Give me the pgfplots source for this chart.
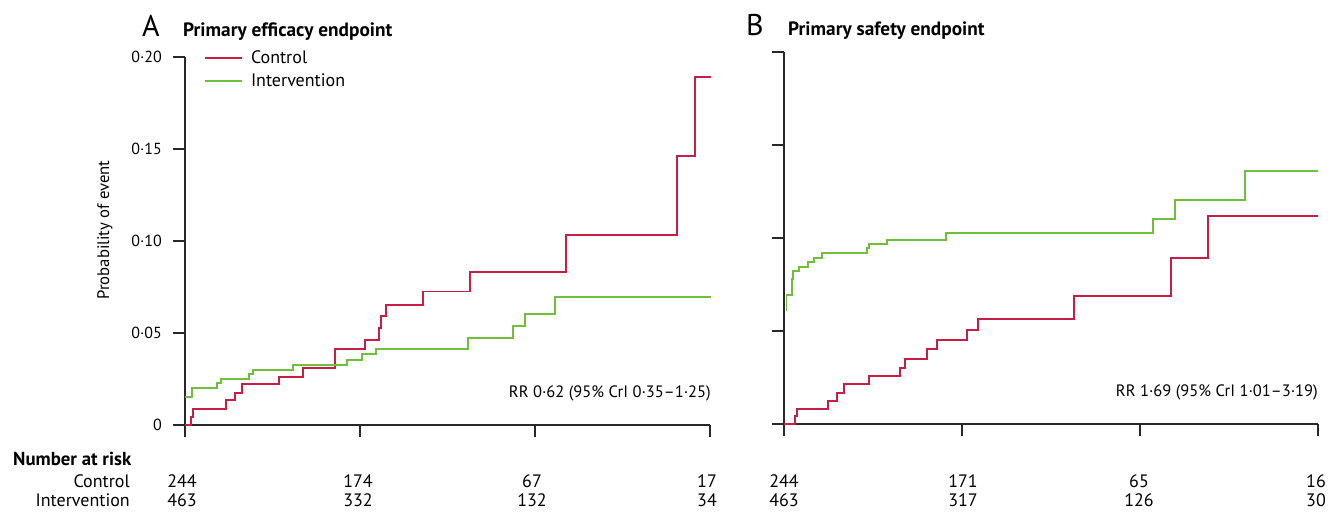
\documentclass[border=0pt]{standalone}
\usepackage{pgfplots}
\pgfplotsset{compat=1.18}
\usepackage{fontspec}
\setmainfont{PT Sans}
\definecolor{cred}{RGB}{198,30,68}
\definecolor{cgreen}{RGB}{112,190,60}
\definecolor{axgray}{RGB}{40,40,40}
\begin{document}
\begin{tikzpicture}
\useasboundingbox (0pt,0pt) rectangle (1330pt,513pt);
\pgfplotsset{km/.style={scale only axis, axis lines=left,
  axis line style={-, line width=1.4pt, color=axgray},
  tick style={line width=1.4pt, color=axgray},
  tick align=outside, major tick length=12pt,
  ymin=0, ymax=0.2, ytick={0,0.05,0.1,0.15,0.2},
  xticklabels={}, clip=false,
  every axis plot/.append style={const plot, line width=1.8pt}}}
\begin{axis}[km, at={(185pt,88pt)}, anchor=south west, width=525pt, height=368pt,
  xmin=0, xmax=525, xtick={0,175,350,525},
  yticklabels={0,0·05,0·10,0·15,0·20},
  yticklabel style={font=\fontsize{16}{18}\selectfont, inner sep=0pt, xshift=-11pt},
  legend style={draw=none, fill=none, at={(axis description cs:0.036,1.022)}, anchor=north west,
    inner sep=0pt, row sep=4.5pt, font=\fontsize{18}{21}\selectfont},
  legend cell align=left,
  legend image code/.code={\draw[#1,line width=2pt] (0pt,0pt) -- (37pt,0pt); \path (43pt,0pt);}]
\addplot[cred] coordinates {(0,0) (6,0.0043) (8,0.0087) (41,0.0136) (50,0.0172) (57,0.0221) (94,0.0263) (118,0.0308) (150,0.0411) (180,0.0462) (194,0.0526) (196,0.0592) (201,0.0650) (238,0.0726) (285,0.0830) (381,0.1033) (492,0.1462) (510,0.1893) (526,0.1893)};
\addlegendentry{Control}
\addplot[cgreen] coordinates {(0,0.0154) (7,0.0203) (32,0.0230) (36,0.0250) (64,0.0276) (68,0.0299) (108,0.0324) (162,0.0353) (177,0.0384) (191,0.0412) (283,0.0471) (328,0.0538) (340,0.0602) (370,0.0697) (526,0.0697)};
\addlegendentry{Intervention}
\end{axis}
\begin{axis}[km, at={(784pt,89pt)}, anchor=south west, width=534pt, height=372pt,
  xmin=0, xmax=534, xtick={0,178,356,534}, yticklabels={}]
\addplot[cred] coordinates {(0,0) (11,0.0045) (13,0.0079) (44,0.0125) (53,0.0165) (60,0.0213) (85,0.0260) (116,0.0299) (121,0.0348) (143,0.0403) (153,0.0452) (183,0.0505) (194,0.0563) (290,0.0688) (387,0.0891) (424,0.1118) (534,0.1118)};
\addplot[cgreen] coordinates {(1.5,0.0613) (2.5,0.0694) (8,0.0778) (9,0.0824) (15,0.0846) (24,0.0873) (30,0.0894) (38,0.0921) (83,0.0945) (85,0.0966) (103,0.0989) (162,0.1025) (369,0.1101) (391,0.1204) (461,0.1362) (534,0.1362)};
\end{axis}
% titles
\node[anchor=base west, inner sep=0pt, font=\fontsize{30}{32}\selectfont] at (142pt,476pt) {A};
\node[anchor=base west, inner sep=0pt, font=\bfseries\fontsize{19.3}{22}\selectfont] at (183pt,476pt) {Primary efficacy endpoint};
\node[anchor=base west, inner sep=0pt, font=\fontsize{30}{32}\selectfont] at (746pt,477pt) {B};
\node[anchor=base west, inner sep=0pt, font=\bfseries\fontsize{19.3}{22}\selectfont] at (788pt,477pt) {Primary safety endpoint};
% y label
\node[rotate=90, inner sep=0pt, font=\fontsize{16.7}{19}\selectfont] at (105pt,283pt) {Probability of event};
% RR
\node[anchor=base east, inner sep=0pt, font=\fontsize{16.5}{18}\selectfont] at (711pt,115pt) {RR 0·62 (95\% CrI 0·35–1·25)};
\node[anchor=base east, inner sep=0pt, font=\fontsize{16.5}{18}\selectfont] at (1318pt,116pt) {RR 1·69 (95\% CrI 1·01–3·19)};
% number at risk
\begin{scope}[every node/.style={inner sep=0pt, font=\fontsize{18}{20}\selectfont}]
\node[anchor=base west, font=\bfseries\fontsize{18.8}{21}\selectfont] at (13pt,47pt) {Number at risk};
\node[anchor=base east] at (130pt,25pt) {Control};
\node[anchor=base east] at (130pt,6pt) {Intervention};
\node[anchor=base] at (182pt,25pt) {244};
\node[anchor=base] at (358pt,25pt) {174};
\node[anchor=base] at (532pt,25pt) {67};
\node[anchor=base] at (707pt,25pt) {17};
\node[anchor=base] at (182pt,6pt) {463};
\node[anchor=base] at (358pt,6pt) {332};
\node[anchor=base] at (532pt,6pt) {132};
\node[anchor=base] at (707pt,6pt) {34};
\node[anchor=base] at (784pt,25pt) {244};
\node[anchor=base] at (963pt,25pt) {171};
\node[anchor=base] at (1139pt,25pt) {65};
\node[anchor=base] at (1316pt,25pt) {16};
\node[anchor=base] at (784pt,6pt) {463};
\node[anchor=base] at (963pt,6pt) {317};
\node[anchor=base] at (1139pt,6pt) {126};
\node[anchor=base] at (1316pt,6pt) {30};
\end{scope}
\end{tikzpicture}
\end{document}
